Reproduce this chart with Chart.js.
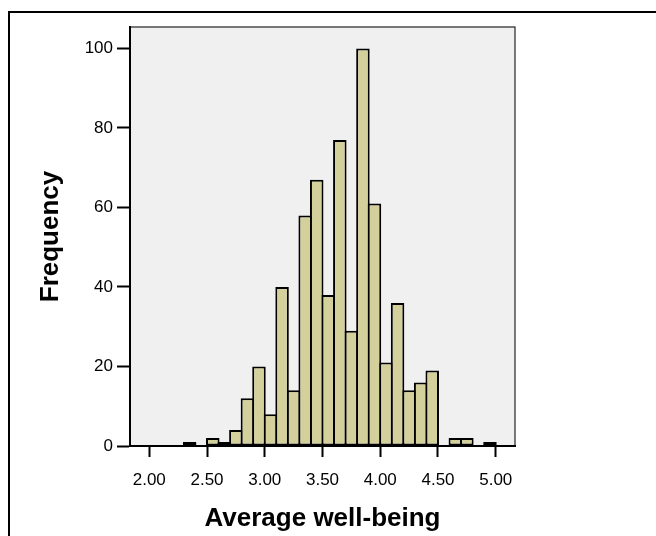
<!DOCTYPE html>
<html>
<head>
<meta charset="utf-8">
<script src="https://cdn.jsdelivr.net/npm/chart.js@4.4.1/dist/chart.umd.min.js"></script>
<style>
  body {
    margin: 0;
    background: #fff;
  }

  .frame {
    position: absolute;
    left: 8px;
    top: 11px;
    right: 0;
    bottom: 0;
    border-top: 2px solid #000;
    border-left: 2px solid #000;
  }

  #histChart {
    position: absolute;
    left: 0;
    top: 0;
  }
</style>
</head>
<body>
<div class="frame"></div>
<canvas id="histChart" width="656" height="536"></canvas>
<script>
  // bin mid-points (bin width 0.1) and their frequencies
  const binMids = [2.35, 2.55, 2.65, 2.75, 2.85, 2.95, 3.05, 3.15, 3.25, 3.35, 3.45, 3.55,
                   3.65, 3.75, 3.85, 3.95, 4.05, 4.15, 4.25, 4.35, 4.45, 4.65, 4.75, 4.95];
  const counts = [1, 2, 1, 4, 12, 20, 8, 40, 14, 58, 67, 38,
                  77, 29, 100, 61, 21, 36, 14, 16, 19, 2, 2, 1];
  const xTicks = [2.0, 2.5, 3.0, 3.5, 4.0, 4.5, 5.0];
  const yTicks = [0, 20, 40, 60, 80, 100];

  const FONT = "'Liberation Sans', Arial, sans-serif";

  const plotFrame = {
    id: 'plotFrame',
    beforeDraw(chart) {
      const { ctx, chartArea: a } = chart;
      ctx.save();
      ctx.fillStyle = '#f0f0f0';
      ctx.fillRect(a.left, a.top, a.right - a.left, a.bottom - a.top);
      ctx.strokeStyle = '#222';
      ctx.lineWidth = 1.2;
      ctx.strokeRect(a.left, a.top, a.right - a.left, a.bottom - a.top);
      ctx.restore();
    }
  };

  const ctx = document.getElementById('histChart').getContext('2d');
  new Chart(ctx, {
    type: 'bar',
    data: {
      datasets: [{
        label: 'Frequency',
        data: binMids.map((x, i) => ({ x: x, y: counts[i] })),
        backgroundColor: '#d4d09b',
        borderColor: '#000',
        borderWidth: 2,
        borderSkipped: false,
        inflateAmount: 0,
        categoryPercentage: 1.0,
        barPercentage: 1.17
      }]
    },
    options: {
      responsive: false,
      animation: false,
      layout: { padding: { left: 0, top: 27, right: 141, bottom: 0 } },
      plugins: {
        legend: { display: false },
        tooltip: { enabled: false }
      },
      scales: {
        x: {
          type: 'linear',
          min: 1.8333,
          max: 5.1667,
          offset: false,
          afterFit(s) { s.height = 90; },
          afterBuildTicks(s) { s.ticks = xTicks.map(v => ({ value: v })); },
          grid: {
            offset: false,
            drawOnChartArea: false,
            drawTicks: true,
            tickLength: 11,
            tickWidth: 2,
            tickColor: '#000'
          },
          border: { display: true, color: '#000', width: 2 },
          ticks: {
            color: '#000',
            padding: 13,
            maxRotation: 0,
            font: { family: FONT, size: 17 },
            callback: v => Number(v).toFixed(2)
          },
          title: {
            display: true,
            text: 'Average well-being',
            color: '#000',
            padding: { top: 0, bottom: 2 },
            font: { family: FONT, size: 26, weight: 'bold' }
          }
        },
        y: {
          min: 0,
          max: 105.4,
          afterFit(s) { s.width = 130; },
          afterBuildTicks(s) { s.ticks = yTicks.map(v => ({ value: v })); },
          grid: {
            drawOnChartArea: false,
            drawTicks: true,
            tickLength: 13,
            tickWidth: 2,
            tickColor: '#000'
          },
          border: { display: true, color: '#000', width: 2 },
          ticks: {
            color: '#000',
            padding: 4,
            font: { family: FONT, size: 17 }
          },
          title: {
            display: true,
            text: 'Frequency',
            color: '#000',
            padding: { top: 35, bottom: 0 },
            font: { family: FONT, size: 26, weight: 'bold' }
          }
        }
      }
    },
    plugins: [plotFrame]
  });
</script>
</body>
</html>
